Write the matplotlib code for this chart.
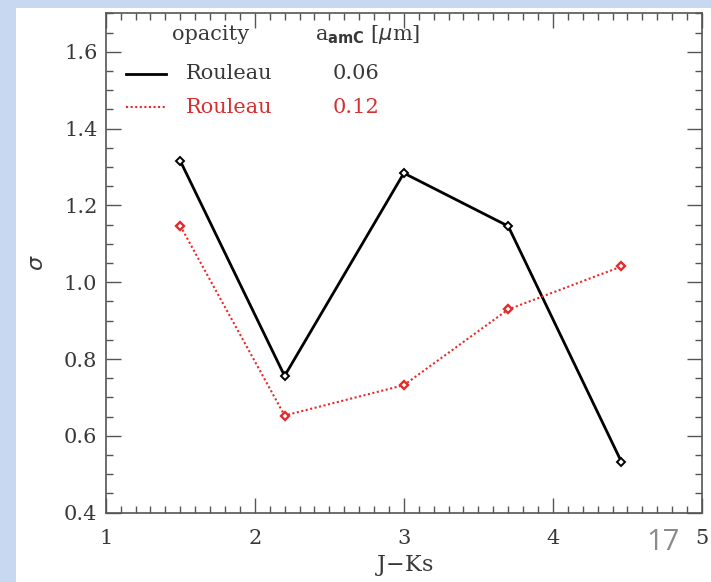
import matplotlib
matplotlib.use("Agg")
import matplotlib.pyplot as plt
from matplotlib.lines import Line2D
from matplotlib.patches import Rectangle
from matplotlib.ticker import MultipleLocator

# data
jks = [1.5, 2.2, 3.0, 3.7, 4.46]
sigma_006 = [1.316, 0.756, 1.284, 1.146, 0.532]
sigma_012 = [1.147, 0.653, 0.732, 0.929, 1.041]
grain_sizes = ["0.06", "0.12"]
opacity_names = ["Rouleau", "Rouleau"]

red = "#e82a2a"
ink = "#383838"

fig = plt.figure(figsize=(7.11, 5.82), dpi=100)
fig.patch.set_facecolor("#c9d8f1")
# white slide area, behind the axes
fig.add_artist(Rectangle((16 / 711, 0), 1, 1 - 8 / 582, transform=fig.transFigure,
                         facecolor="white", edgecolor="none", zorder=-10))

ax = fig.add_axes([0.1487, 0.1191, 0.8386, 0.858])
ax.set_facecolor("white")

ax.plot(jks, sigma_006, color="black", lw=2, marker="D", ms=4, mfc="white", mec="black", mew=1.4)
ax.plot(jks, sigma_012, color=red, lw=1.5, ls=(0, (1, 1.2)), marker="D", ms=4, mfc="white",
        mec=red, mew=1.7)

ax.set_xlim(1, 5)
ax.set_ylim(0.4, 1.7)
ax.xaxis.set_major_locator(MultipleLocator(1))
ax.xaxis.set_minor_locator(MultipleLocator(0.1))
ax.set_yticks([0.4, 0.6, 0.8, 1.0, 1.2, 1.4, 1.6])
ax.yaxis.set_minor_locator(MultipleLocator(0.05))

ax.tick_params(which="both", direction="in", top=True, right=True, colors="#555555",
               labelcolor=ink, labelsize=15, width=1)
ax.tick_params(which="major", length=11)
ax.tick_params(which="minor", length=5)
ax.tick_params(axis="x", pad=12)
ax.tick_params(axis="y", pad=6)
for lab in ax.get_xticklabels() + ax.get_yticklabels():
    lab.set_family("DejaVu Serif")
for s in ax.spines.values():
    s.set_color("#555555")
    s.set_linewidth(1.2)

ax.set_xlabel("J$-$Ks", fontsize=16, color=ink, family="DejaVu Serif", labelpad=3)
ax.set_ylabel(r"$\sigma$", fontsize=16, color=ink, labelpad=12)

# legend block, IDL style
tx = dict(fontsize=15, family="DejaVu Serif", va="center", transform=ax.transAxes)
ax.text(0.111, 0.957, "opacity", color=ink, **tx)
ax.text(0.351, 0.957, r"a$_{\mathbf{amC}}$ [$\mu$m]", color=ink, **tx)
rows_y = [0.879, 0.812]
styles = [dict(color="black", lw=2), dict(color=red, lw=1.5, ls=(0, (1, 1.2)))]
colors = [ink, "#d83030"]
for y, name, size, st, c in zip(rows_y, opacity_names, grain_sizes, styles, colors):
    ax.add_line(Line2D([0.034, 0.101], [y, y], transform=ax.transAxes, **st))
    ax.text(0.135, y, name, color=c, **tx)
    ax.text(0.381, y, size, color=c, **tx)

# slide number
fig.text(663 / 711, 1 - 542 / 582, "17", fontsize=21, color="#8a8a8a", family="Open Sans",
         ha="center", va="center")

fig.savefig("out.png", dpi=100, facecolor=fig.get_facecolor())
